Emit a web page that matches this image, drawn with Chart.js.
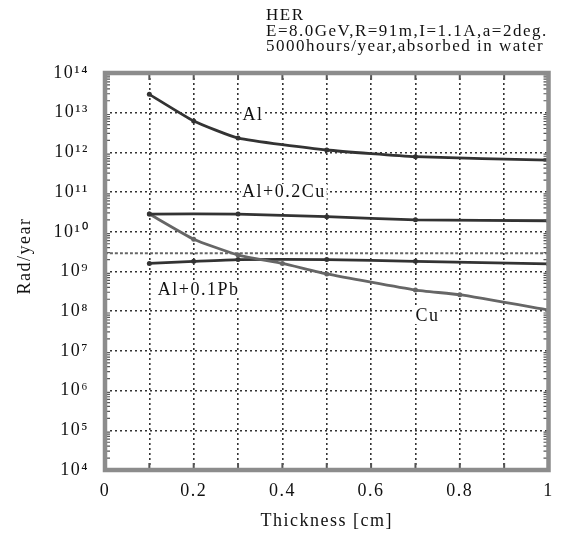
<!DOCTYPE html>
<html>
<head>
<meta charset="utf-8">
<script src="https://cdn.jsdelivr.net/npm/chart.js@4/dist/chart.umd.min.js"></script>
<style>
  html, body { margin: 0; padding: 0; background: #fff; }
  #wrap { width: 563px; height: 535px; }
</style>
</head>
<body>
<div id="wrap"><canvas id="rad-chart"></canvas></div>
<script>
'use strict'

// data
var headerLines = ['HER', 'E=8.0GeV,R=91m,I=1.1A,a=2deg.', '5000hours/year,absorbed in water']
var yTitle = 'Rad/year'
var yExponents = [4, 5, 6, 7, 8, 9, 10, 11, 12, 13, 14]
var xTickValues = [0, 0.1, 0.2, 0.3, 0.4, 0.5, 0.6, 0.7, 0.8, 0.9, 1]

var alX = [0.1, 0.2, 0.3, 0.5, 0.7, 1.0]
var alY = [2.9e13, 6.2e12, 2.3e12, 1.15e12, 7.8e11, 6.4e11]

var alCuX = [0.1, 0.3, 0.5, 0.7, 1.0]
var alCuY = [2.8e10, 2.8e10, 2.4e10, 2.0e10, 1.9e10]

var cuX = [0.1, 0.2, 0.3, 0.4, 0.5, 0.7, 0.8, 1.0]
var cuY = [2.8e10, 6.5e9, 2.6e9, 1.6e9, 8.7e8, 3.4e8, 2.6e8, 1.07e8]

var alPbX = [0.1, 0.2, 0.3, 0.5, 0.7, 1.0]
var alPbY = [1.6e9, 1.8e9, 2.0e9, 2.0e9, 1.8e9, 1.55e9]

var limitX = [0, 1]
var limitY = [2.9e9, 2.9e9]

// curve labels: text, x, y (data units)
var curveLabels = [
  { text: 'Al', x: 0.31, y: 8.5e12 },
  { text: 'Al+0.2Cu', x: 0.309, y: 1.0e11 },
  { text: 'Al+0.1Pb', x: 0.119, y: 3.4e8 },
  { text: 'Cu', x: 0.70, y: 7.6e7 }
]

var FONT = "'Liberation Serif', 'Times New Roman', serif"
var SPACING = '1.5px'
var INK = '#111'
var SUP = { '0': '\u2070', '1': '\u00b9', '2': '\u00b2', '3': '\u00b3', '4': '\u2074',
  '5': '\u2075', '6': '\u2076', '7': '\u2077', '8': '\u2078', '9': '\u2079' }

function pts (xs, ys) {
  return xs.map(function (x, i) { return { x: x, y: ys[i] } })
}

function line (label, xs, ys, color, width, dash) {
  return {
    label: label,
    data: pts(xs, ys),
    borderColor: color,
    backgroundColor: color,
    borderWidth: width,
    borderDash: dash || [],
    pointRadius: dash ? 0 : 2.5,
    pointBorderWidth: 0,
    tension: 0.15,
    fill: false
  }
}

// frame, minor ticks, header, y title and curve labels
var decorPlugin = {
  id: 'decor',
  beforeDraw: function (chart) {
    chart.ctx.letterSpacing = SPACING
  },
  afterDatasetsDraw: function (chart) {
    var ctx = chart.ctx
    var a = chart.chartArea
    var ys = chart.scales.y
    var xs = chart.scales.x
    ctx.save()
    // minor log ticks on left and right edges
    ctx.strokeStyle = '#555'
    ctx.lineWidth = 1.2
    for (var e = 4; e < 14; e++) {
      for (var m = 2; m <= 9; m++) {
        var py = ys.getPixelForValue(m * Math.pow(10, e))
        ctx.beginPath()
        ctx.moveTo(a.left, py); ctx.lineTo(a.left + 5, py)
        ctx.moveTo(a.right, py); ctx.lineTo(a.right - 5, py)
        ctx.stroke()
      }
    }
    // major x ticks at bottom and top
    ctx.lineWidth = 2
    xTickValues.forEach(function (v) {
      var px = xs.getPixelForValue(v)
      ctx.beginPath()
      ctx.moveTo(px, a.bottom); ctx.lineTo(px, a.bottom - 7)
      ctx.moveTo(px, a.top); ctx.lineTo(px, a.top + 7)
      ctx.stroke()
    })
    // thick gray frame
    ctx.strokeStyle = '#8c8c8c'
    ctx.lineWidth = 4.5
    ctx.strokeRect(a.left, a.top, a.right - a.left, a.bottom - a.top)

    // curve labels
    ctx.letterSpacing = SPACING
    ctx.font = '18px ' + FONT
    ctx.textAlign = 'left'
    ctx.textBaseline = 'middle'
    curveLabels.forEach(function (l) {
      var px = xs.getPixelForValue(l.x)
      var py = ys.getPixelForValue(l.y)
      ctx.fillStyle = '#fff'
      var w = ctx.measureText(l.text).width
      ctx.fillRect(px - 1, py - 8, w + 2, 16)
      ctx.fillStyle = INK
      ctx.fillText(l.text, px, py)
    })

    // header text
    ctx.font = '17px ' + FONT
    ctx.textBaseline = 'alphabetic'
    headerLines.forEach(function (t, i) {
      ctx.fillText(t, 266, 20 + i * 15.5)
    })

    // y axis title
    ctx.font = '18px ' + FONT
    ctx.textAlign = 'center'
    ctx.textBaseline = 'middle'
    ctx.translate(25, 256)
    ctx.rotate(-Math.PI / 2)
    ctx.fillText(yTitle, 0, 0)
    ctx.restore()
  }
}

var chartCanvas = document.getElementById('rad-chart').getContext('2d')

var radChart = new Chart(chartCanvas, {
  type: 'line',
  data: {
    datasets: [
      line('Al', alX, alY, '#333', 2.8),
      line('Al+0.2Cu', alCuX, alCuY, '#333', 2.8),
      line('Cu', cuX, cuY, '#666', 2.8),
      line('Al+0.1Pb', alPbX, alPbY, '#333', 2.8),
      line('limit', limitX, limitY, '#666', 2, [3, 2])
    ]
  },
  options: {
    responsive: true,
    maintainAspectRatio: false,
    animation: false,
    layout: { padding: { top: 73, right: 12, left: 0, bottom: 0 } },
    plugins: {
      legend: { display: false },
      tooltip: { enabled: false }
    },
    scales: {
      x: {
        type: 'linear',
        min: 0,
        max: 1,
        afterBuildTicks: function (scale) {
          scale.ticks = xTickValues.map(function (v) { return { value: v } })
        },
        afterFit: function (scale) { scale.height = 65 },
        grid: {
          color: '#333',
          lineWidth: 1.6,
          drawTicks: false
        },
        border: { display: false, dash: [2, 3] },
        ticks: {
          padding: 10,
          color: INK,
          font: { family: FONT, size: 18 },
          maxRotation: 0,
          autoSkip: false,
          callback: function (v) {
            var k = Math.round(v * 10)
            if (k % 2 !== 0) return ''
            if (k === 0) return '0'
            if (k === 10) return '1'
            return (k / 10).toFixed(1)
          }
        },
        title: {
          display: true,
          text: 'Thickness [cm]',
          color: INK,
          font: { family: FONT, size: 18 },
          padding: { top: 0, bottom: 3 }
        }
      },
      y: {
        type: 'logarithmic',
        min: 1e4,
        max: 1e14,
        afterBuildTicks: function (scale) {
          scale.ticks = yExponents.map(function (e) { return { value: Math.pow(10, e) } })
        },
        afterFit: function (scale) { scale.width = 105 },
        grid: {
          color: '#333',
          lineWidth: 1.6,
          drawTicks: false
        },
        border: { display: false, dash: [2, 3] },
        ticks: {
          padding: 16,
          color: INK,
          font: { family: FONT, size: 18 },
          autoSkip: false,
          callback: function (v) {
            var e = Math.round(Math.log10(v))
            return '10' + String(e).split('').map(function (c) { return SUP[c] }).join('')
          }
        },
        title: { display: false }
      }
    }
  },
  plugins: [decorPlugin]
})
</script>
</body>
</html>
